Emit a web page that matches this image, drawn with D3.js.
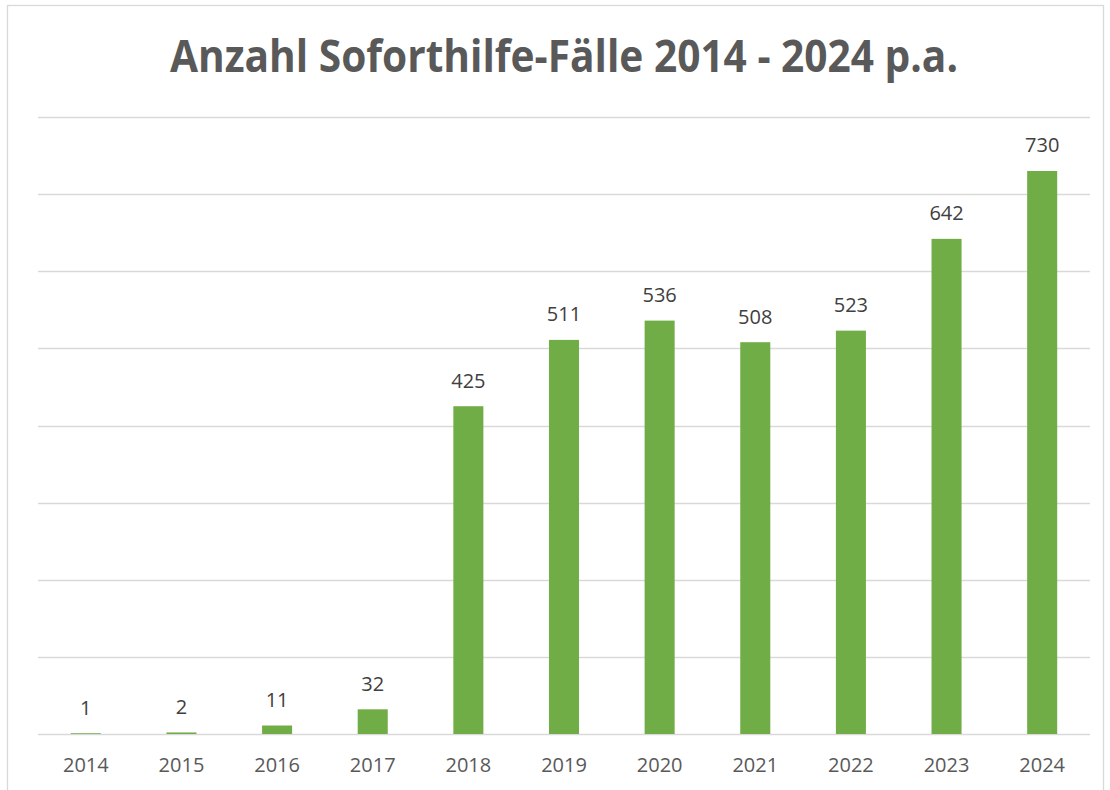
<!DOCTYPE html>
<html>
<head>
<meta charset="utf-8">
<script src="https://cdn.jsdelivr.net/npm/d3@7"></script>
<style>
  body { margin: 0; background: #fff; }
</style>
</head>
<body>
<div id="chart"></div>
<script>
"use strict";

const years = ["2014", "2015", "2016", "2017", "2018", "2019", "2020", "2021", "2022", "2023", "2024"];
const cases = [1, 2, 11, 32, 425, 511, 536, 508, 523, 642, 730];
const gridValues = [0, 100, 200, 300, 400, 500, 600, 700, 800];
const titleText = "Anzahl Soforthilfe-Fälle 2014 - 2024 p.a.";

const width = 1110, height = 790;
const plot = { left: 38, right: 1090, top: 117, bottom: 734 };
const fontFam = "'Open Sans', 'Liberation Sans', sans-serif";

const svg = d3.select("#chart").append("svg")
    .attr("width", width)
    .attr("height", height);

// chart border
svg.append("rect")
    .attr("x", 7.5).attr("y", 5.5)
    .attr("width", 1096).attr("height", 800)
    .attr("fill", "#fff")
    .attr("stroke", "#d9d9d9")
    .attr("stroke-width", 1.3);

const x = d3.scaleBand()
    .domain(years)
    .range([plot.left, plot.right])
    .paddingInner(0.686)
    .paddingOuter(0.343);

const y = d3.scaleLinear()
    .domain([0, 800])
    .range([plot.bottom, plot.top]);

// gridlines
svg.append("g")
    .selectAll("line")
    .data(gridValues)
    .join("line")
    .attr("x1", plot.left).attr("x2", plot.right)
    .attr("y1", d => Math.round(y(d)) + 0.5)
    .attr("y2", d => Math.round(y(d)) + 0.5)
    .attr("stroke", "#d9d9d9")
    .attr("stroke-width", 1.5);

// bars
const data = years.map((yr, i) => ({ year: yr, value: cases[i] }));
svg.append("g")
    .selectAll("rect")
    .data(data)
    .join("rect")
    .attr("x", d => x(d.year))
    .attr("y", d => y(d.value))
    .attr("width", x.bandwidth())
    .attr("height", d => y(0) - y(d.value))
    .attr("fill", "#70ad47");

// value labels
svg.append("g")
    .selectAll("text")
    .data(data)
    .join("text")
    .attr("x", d => x(d.year) + x.bandwidth() / 2)
    .attr("y", d => y(d.value) - 18.5)
    .attr("text-anchor", "middle")
    .style("font", `20px ${fontFam}`)
    .attr("fill", "#404040")
    .text(d => d.value);

// x axis labels
const xAxis = svg.append("g")
    .attr("transform", `translate(0,${plot.bottom})`)
    .call(d3.axisBottom(x).tickSize(0).tickPadding(0));
xAxis.select(".domain").remove();
xAxis.selectAll("text")
    .attr("dy", null)
    .attr("y", 38)
    .style("font", `20px ${fontFam}`)
    .attr("fill", "#595959");

// title
svg.append("text")
    .attr("x", 564)
    .attr("y", 72)
    .attr("text-anchor", "middle")
    .attr("textLength", 788)
    .attr("lengthAdjust", "spacingAndGlyphs")
    .style("font", `bold 44px ${fontFam}`)
    .attr("fill", "#595959")
    .text(titleText);
</script>
</body>
</html>
